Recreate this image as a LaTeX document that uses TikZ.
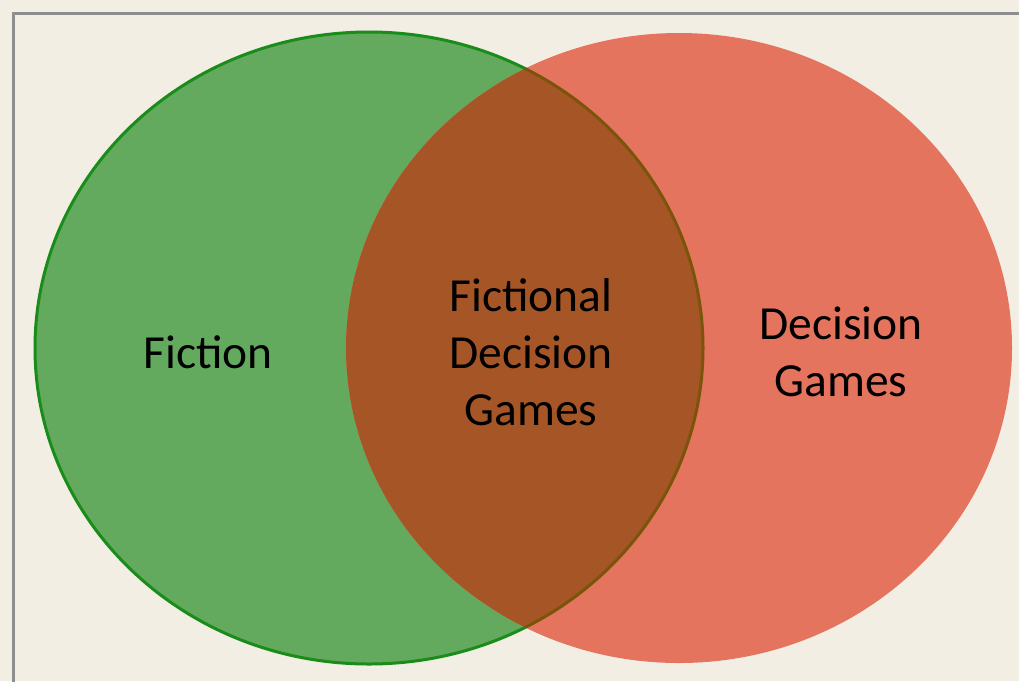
\documentclass[tikz,border=0pt]{standalone}
\usepackage{fontspec}
\setmainfont{Carlito}
\begin{document}
\begin{tikzpicture}[x=1pt,y=-1pt,
  lbl/.style={font=\fontsize{47.5}{57}\selectfont, text=black, align=center, inner sep=0pt}]
\definecolor{bg}{HTML}{F2EEE4}
\definecolor{frame}{HTML}{8E8E8E}
\definecolor{gfill}{HTML}{64AA5E}
\definecolor{gline}{HTML}{1A8C1A}
\definecolor{rfill}{HTML}{E5745E}
\definecolor{ofill}{HTML}{A65626}
\definecolor{oline}{HTML}{7A5408}
\useasboundingbox (0,0) rectangle (1019,681);
\fill[bg] (0,0) rectangle (1019,681);
\draw[frame, line width=3.5pt] (1025,13.5) -- (13.5,13.5) -- (13.5,690);
% green set
\fill[gfill] (369,348) ellipse [x radius=334, y radius=316];
% red set
\fill[rfill] (679,348) ellipse [x radius=333, y radius=315];
% overlap
\begin{scope}
  \clip (679,348) ellipse [x radius=333, y radius=315];
  \fill[ofill] (369,348) ellipse [x radius=334, y radius=316];
\end{scope}
% outline of green set
\begin{scope}[even odd rule]
  \clip (0,0) rectangle (1019,681) (679,348) ellipse [x radius=333, y radius=315];
  \draw[gline, line width=3pt] (369,348) ellipse [x radius=334, y radius=316];
\end{scope}
\begin{scope}
  \clip (679,348) ellipse [x radius=333, y radius=315];
  \draw[oline, line width=3pt] (369,348) ellipse [x radius=334, y radius=316];
\end{scope}
\node[lbl] (fiction) at (208,352) {Fiction};
\node[lbl] (both) at (531,352) {Fictional\\Decision\\Games};
\node[lbl] (games) at (841,352) {Decision\\Games};
\end{tikzpicture}
\end{document}
